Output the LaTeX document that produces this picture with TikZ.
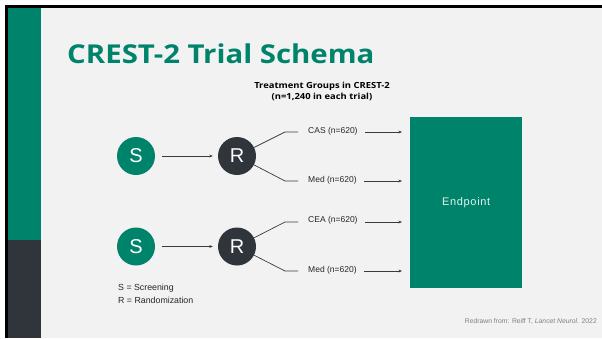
\documentclass[tikz,border=0pt]{standalone}
\usepackage{fontspec}
\setmainfont{Liberation Sans}
\newfontfamily\titlefont{Open Sans}
\usetikzlibrary{arrows.meta}
\definecolor{cgreen}{HTML}{00836B}
\definecolor{cdark}{HTML}{30353C}
\definecolor{cbg}{HTML}{F2F2F2}
\definecolor{cline}{HTML}{3A3A3A}
\begin{document}
\begin{tikzpicture}[x=1pt,y=-1pt,
  circ/.style={circle,minimum size=38pt,inner sep=0pt,text=white,font=\fontsize{20}{20}\selectfont},
  grp/.style={anchor=west,inner sep=0pt,font=\fontsize{8.5}{9}\selectfont,text=black!85},
  arr/.style={draw=cline,line width=0.6pt,-{Stealth[length=3.5pt,width=2.8pt]}},
  br/.style={draw=cline,line width=0.7pt},
  txt/.style={inner sep=0pt,anchor=base west}]
\useasboundingbox (0,0) rectangle (602,338);
\fill[white] (0,0) rectangle (602,338);
\fill[cbg] (6,6) rectangle (602,338);
\fill[black] (5,5) rectangle (602,8);
\fill[black] (5,5) rectangle (8,338);
\fill[cgreen] (8,8) rectangle (41,240);
\fill[cdark] (8,240) rectangle (41,338);
% title
\node[txt,xscale=1.13,transform shape,text=cgreen,font=\titlefont\fontsize{26}{26}\selectfont\bfseries] (title) at (67,63) {CREST-2 Trial Schema};
\node[inner sep=0pt,align=center,xscale=1.12,transform shape,font=\titlefont\fontsize{8.4}{11}\selectfont\bfseries] (sub) at (322,91.5) {Treatment Groups in CREST-2\\(n=1,240 in each trial)};
% endpoint
\node[fill=cgreen,minimum width=112pt,minimum height=171pt,inner sep=0pt,anchor=north west,text=white!90!cgreen,font=\fontsize{11}{11}\selectfont] (ep) at (410,117) {\addfontfeature{LetterSpace=6}Endpoint};
% top trial
\node[circ,fill=cgreen] (s1) at (136,156) {S};
\node[circ,fill=cdark] (r1) at (237,156) {R};
\draw[arr,shorten <=7pt,shorten >=5pt] (s1) -- (r1);
\coordinate (b1) at (285,132);
\coordinate (b2) at (285,181);
\node[grp] (g1) at (308,131) {CAS (n=620)};
\node[grp] (g2) at (308,180) {Med (n=620)};
\draw[br,shorten >=10pt] (r1) -- (b1) -- (g1.west |- b1);
\draw[br,shorten >=10pt] (r1) -- (b2) -- (g2.west |- b2);
\draw[arr,shorten <=7pt,shorten >=8pt] (g1.east |- b1) -- (ep.west |- b1);
\draw[arr,shorten <=7pt,shorten >=8pt] (g2.east |- b2) -- (ep.west |- b2);
% bottom trial
\node[circ,fill=cgreen] (s2) at (136,246.5) {S};
\node[circ,fill=cdark] (r2) at (237,246.5) {R};
\draw[arr,shorten <=7pt,shorten >=5pt] (s2) -- (r2);
\coordinate (b3) at (285,222);
\coordinate (b4) at (285,271);
\node[grp] (g3) at (308,220) {CEA (n=620)};
\node[grp] (g4) at (308,270) {Med (n=620)};
\draw[br,shorten >=10pt] (r2) -- (b3) -- (g3.west |- b3);
\draw[br,shorten >=10pt] (r2) -- (b4) -- (g4.west |- b4);
\draw[arr,shorten <=7pt,shorten >=8pt] (g3.east |- b3) -- (ep.west |- b3);
\draw[arr,shorten <=7pt,shorten >=8pt] (g4.east |- b4) -- (ep.west |- b4);
% legend
\node[txt,font=\fontsize{8.8}{9}\selectfont,text=black!85] (leg1) at (118,290) {S = Screening};
\node[txt,font=\fontsize{8.8}{9}\selectfont,text=black!85] (leg2) at (118,303) {R = Randomization};
% footnote
\node[inner sep=0pt,anchor=base east,text=black!50,font=\fontsize{6.8}{7}\selectfont] (fn) at (597,323) {Redrawn from: Reiff T, \textit{Lancet Neurol.} 2022};
\end{tikzpicture}
\end{document}
